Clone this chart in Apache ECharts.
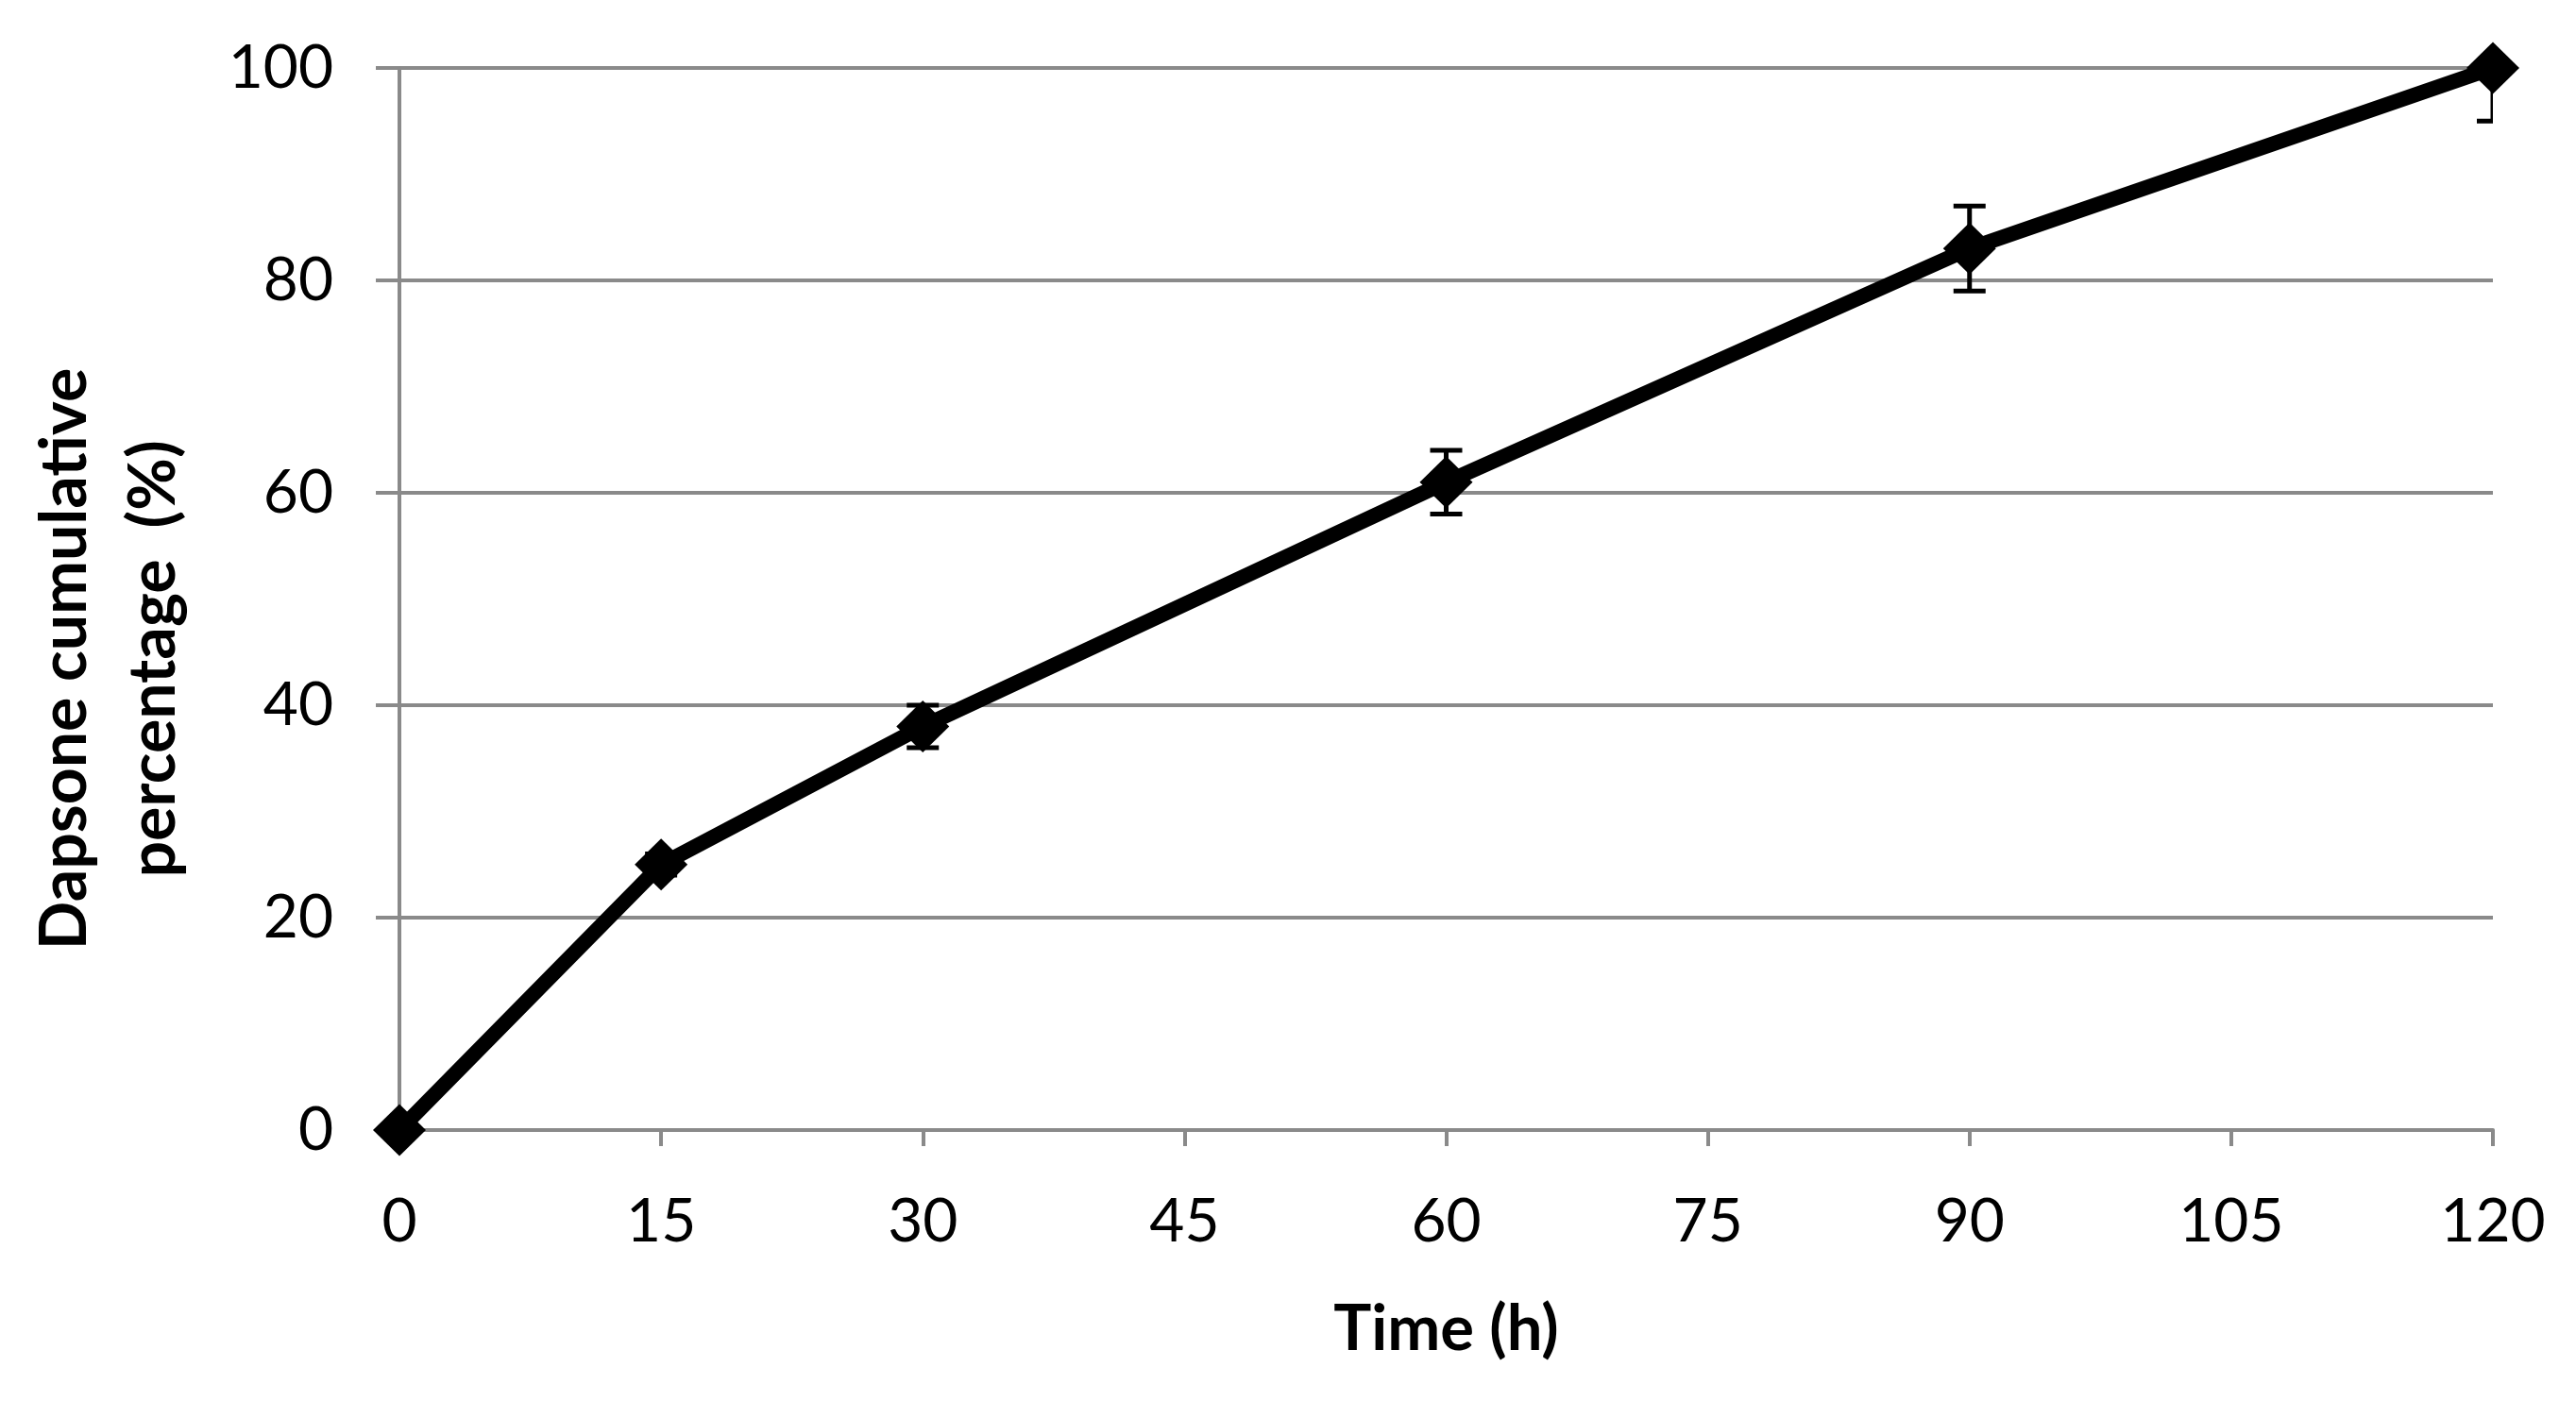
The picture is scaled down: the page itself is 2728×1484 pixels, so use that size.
<!DOCTYPE html>
<html>
<head>
<meta charset="utf-8">
<script src="https://cdn.jsdelivr.net/npm/echarts@6/dist/echarts.min.js"></script>
<style>
html,body{margin:0;padding:0;background:#fff;}
#chart{width:2728px;height:1484px;}
</style>
</head>
<body>
<div id="chart"></div>
<script>
// Data
const timeH = [0, 15, 30, 60, 90, 120];
const cumulativePct = [0, 25, 38, 61, 83, 100];
const errorPct = [0, 1, 2, 3, 4, 5];
const xTicks = [0, 15, 30, 45, 60, 75, 90, 105, 120];
const yTicks = [0, 20, 40, 60, 80, 100];
const xTitle = 'Time (h)';
const yTitleLines = ['Dapsone cumulative', 'percentage  (%)'];

const gridColor = '#8a8a8a';
const fontFamily = 'Lato, "Open Sans", sans-serif';

const lineData = timeH.map((t, i) => [t, cumulativePct[i]]);
const errData = timeH.map((t, i) => [t, cumulativePct[i], errorPct[i]]);

const chart = echarts.init(document.getElementById('chart'), null, {renderer: 'canvas'});
chart.setOption({
  backgroundColor: '#ffffff',
  animation: false,
  grid: {left: 423, right: 88, top: 72, bottom: 287, containLabel: false},
  xAxis: {
    type: 'value',
    min: xTicks[0], max: xTicks[xTicks.length - 1], interval: xTicks[1] - xTicks[0],
    name: xTitle,
    nameLocation: 'middle',
    nameGap: 178,
    nameTextStyle: {fontFamily, fontWeight: 'bold', fontSize: 67, color: '#000', lineHeight: 67},
    axisLine: {show: true, lineStyle: {color: gridColor, width: 4}},
    axisTick: {show: true, inside: false, length: 17, lineStyle: {color: gridColor, width: 4}},
    axisLabel: {fontFamily, fontSize: 64, color: '#000', margin: 65, lineHeight: 64},
    splitLine: {show: false}
  },
  yAxis: {
    type: 'value',
    min: yTicks[0], max: yTicks[yTicks.length - 1], interval: yTicks[1] - yTicks[0],
    axisLine: {show: true, lineStyle: {color: gridColor, width: 4}},
    axisTick: {show: true, inside: false, length: 25, lineStyle: {color: gridColor, width: 4}},
    axisLabel: {fontFamily, fontSize: 64, color: '#000', margin: 70},
    splitLine: {show: true, lineStyle: {color: gridColor, width: 4}}
  },
  graphic: [{
    type: 'text',
    x: 116, y: 698,
    rotation: Math.PI / 2,
    style: {
      text: yTitleLines.join('\n'),
      fontFamily, fontWeight: 'bold', fontSize: 68, lineHeight: 94,
      fill: '#000', align: 'center', verticalAlign: 'middle'
    }
  }],
  series: [{
    type: 'line',
    data: lineData,
    symbol: 'diamond',
    symbolSize: [56, 55],
    lineStyle: {color: '#000', width: 16},
    itemStyle: {color: '#000'},
    z: 3
  }, {
    type: 'custom',
    data: errData,
    clip: true,
    z: 4,
    renderItem: function (params, api) {
      const x = api.value(0), y = api.value(1), e = api.value(2);
      if (!e) return null;
      const top = api.coord([x, y + e]);
      const bot = api.coord([x, y - e]);
      const half = 17;
      const style = {stroke: '#000', lineWidth: 5, fill: null};
      return {
        type: 'group',
        children: [
          {type: 'line', shape: {x1: top[0], y1: top[1], x2: bot[0], y2: bot[1]}, style},
          {type: 'line', shape: {x1: top[0] - half, y1: top[1], x2: top[0] + half, y2: top[1]}, style},
          {type: 'line', shape: {x1: bot[0] - half, y1: bot[1], x2: bot[0] + half, y2: bot[1]}, style}
        ]
      };
    }
  }]
});
</script>
</body>
</html>
